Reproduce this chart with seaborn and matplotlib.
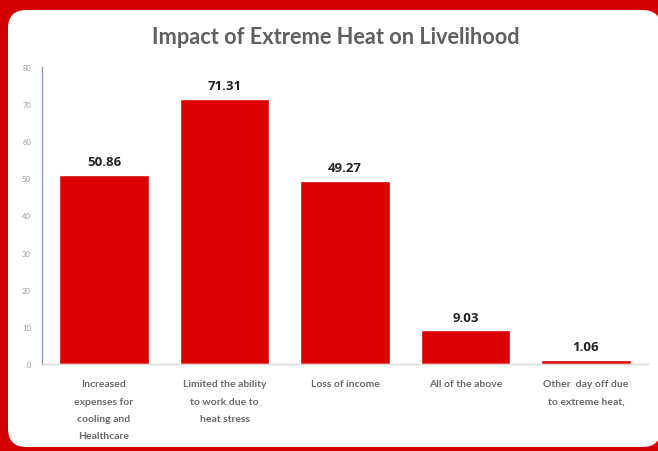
import matplotlib
matplotlib.use("Agg")
import matplotlib.pyplot as plt
from matplotlib.patches import FancyBboxPatch
import seaborn as sns
import pandas as pd

categories = [
    "Increased\nexpenses for\ncooling and\nHealthcare",
    "Limited the ability\nto work due to\nheat stress",
    "Loss of income",
    "All of the above",
    "Other  day off due\nto extreme heat,",
]
values = [50.86, 71.31, 49.27, 9.03, 1.06]
yticks = [0, 10, 20, 30, 40, 50, 60, 70, 80]
title = "Impact of Extreme Heat on Livelihood"

RED = "#D40000"
BAR = "#DC0000"

sns.set_theme(style="white")
plt.rcParams["font.family"] = ["Lato", "DejaVu Sans"]

W, H = 658, 452
fig = plt.figure(figsize=(W / 100, H / 100), dpi=100, facecolor=RED)

# white rounded card on red background (pixel coordinates)
x0, x1, y_top, y_bot = 8, 661, 11, 448
card = FancyBboxPatch((x0 / W, 1 - y_bot / H), (x1 - x0) / W, (y_bot - y_top) / H,
                      boxstyle="round,pad=0,rounding_size=0.028",
                      transform=fig.transFigure, facecolor="white",
                      edgecolor="none", zorder=-10, mutation_aspect=W / H)
fig.patches.append(card)

ax = fig.add_axes([42 / W, 1 - 365 / H, (648 - 42) / W, (365 - 68) / H])
ax.set_facecolor("none")
ax.set_zorder(5)

df = pd.DataFrame({"category": categories, "value": values})
sns.barplot(data=df, x="category", y="value", color=BAR, saturation=1,
            width=0.74, ax=ax)

ax.set_xlim(-0.515, 4.515)
ax.set_ylim(0, 80)
ax.set_yticks(yticks)
ax.set_yticklabels([str(t) for t in yticks], fontsize=5.5, color="#9a9a9a")
ax.tick_params(axis="y", length=0, pad=8)
ax.tick_params(axis="x", length=0, pad=11)
ax.set_xticks(range(len(categories)))
ax.set_xticklabels(categories, fontsize=7.5, color="#6a6a6a", fontweight="bold",
                   linespacing=2.2, va="top")
ax.set_xlabel("")
ax.set_ylabel("")

for s in ["top", "right"]:
    ax.spines[s].set_visible(False)
ax.spines["left"].set_color("#8c98c4")
ax.spines["left"].set_linewidth(1.0)
ax.spines["bottom"].set_color("#d9d9d9")
ax.spines["bottom"].set_linewidth(1.0)

for c in ax.containers:
    ax.bar_label(c, labels=[f"{v:.2f}" for v in values], padding=5,
                 fontsize=9.5, fontweight="bold", color="#222222",
                 family=["Open Sans", "DejaVu Sans"])

fig.text(336 / W, 1 - 38 / H, title, ha="center", va="center",
         fontsize=15.7, fontweight="bold", color="#5f5f5f")

fig.savefig("out.png", dpi=100, facecolor=RED)
